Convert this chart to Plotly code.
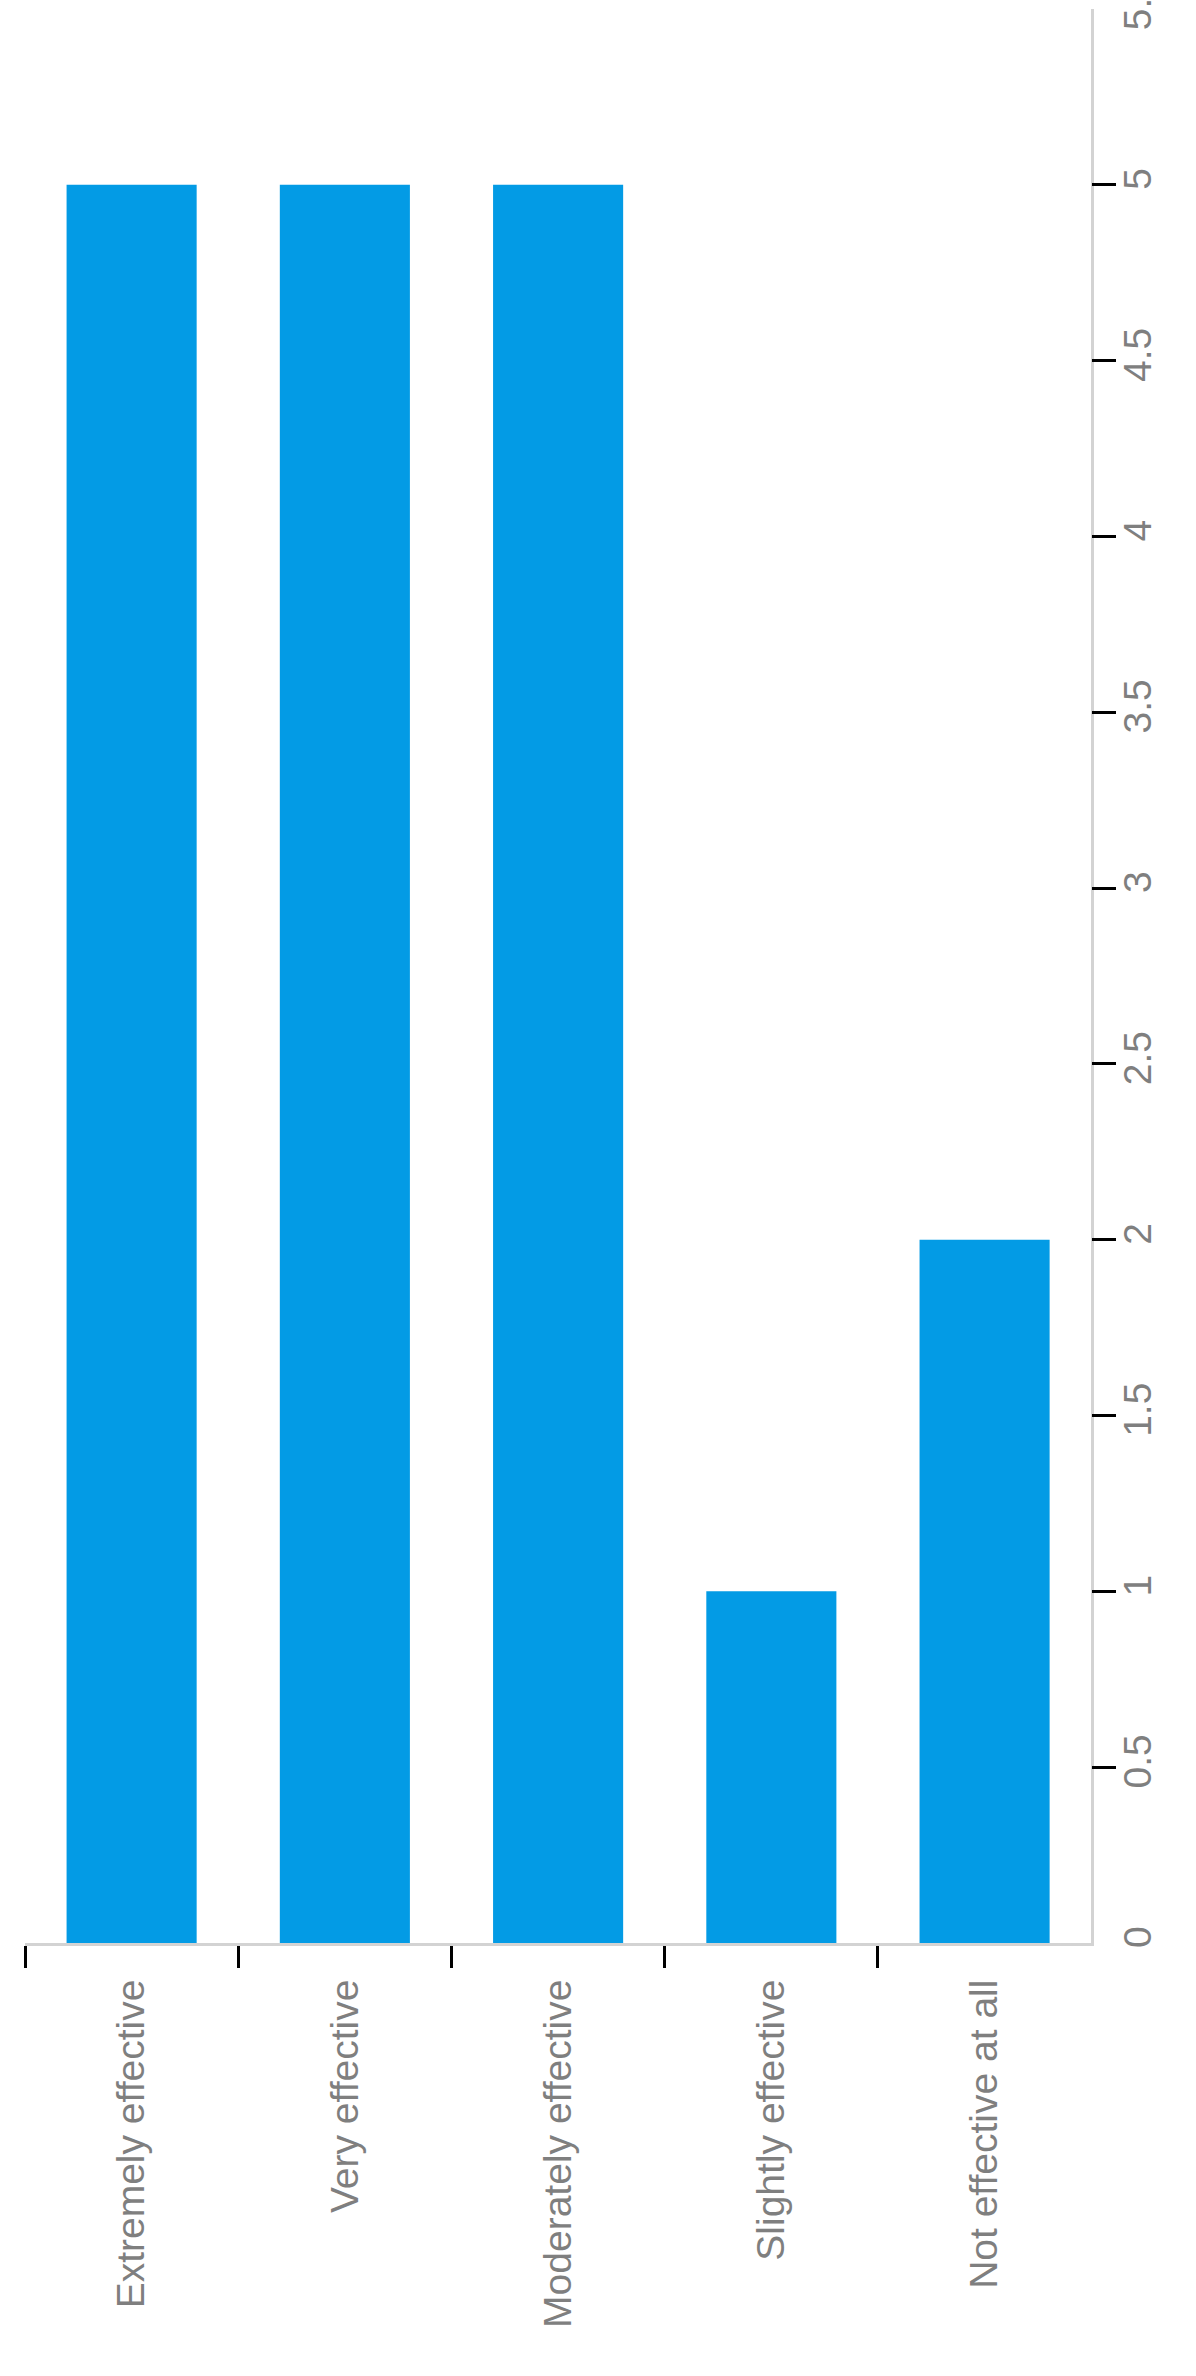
import plotly.graph_objects as go

# survey answers and counts
categories = ['Extremely effective', 'Very effective', 'Moderately effective',
              'Slightly effective', 'Not effective at all']
counts = [5, 5, 5, 1, 2]

# value axis ticks (labels on every step, tick marks only between 0 and max)
tick_vals = [0, 0.5, 1, 1.5, 2, 2.5, 3, 3.5, 4, 4.5, 5, 5.5]
mark_vals = [0.5, 1, 1.5, 2, 2.5, 3, 3.5, 4, 4.5, 5]

font_gray = '#7f7f7f'
line_gray = '#d3d3d3'

fig = go.Figure()
fig.add_trace(go.Bar(x=categories, y=counts, marker=dict(color='#039be5', line=dict(width=0)),
                     width=0.61, hoverinfo='x+y'))

fig.update_layout(width=1196, height=2376, plot_bgcolor='white', paper_bgcolor='white',
                  margin=dict(l=25, r=105, t=9, b=433, autoexpand=False), showlegend=False,
                  font=dict(family='Liberation Sans, Arial, sans-serif', size=39, color=font_gray))

fig.update_xaxes(type='category', range=[-0.5, 4.499], tickson='boundaries',
                 ticks='outside', ticklen=22, tickwidth=3, tickcolor='black',
                 showline=True, linecolor=line_gray, linewidth=3, automargin=False,
                 ticklabelstandoff=18,
                 showgrid=False, tickangle=-90, tickfont=dict(size=39, color=font_gray))

# labelled axis, its tick marks hidden
fig.update_layout(yaxis=dict(side='right', range=[0, 5.5001], tickvals=tick_vals,
                             ticks='outside', ticklen=24, tickwidth=3, tickcolor='white',
                             showline=True, linecolor=line_gray, linewidth=3,
                             showgrid=False, zeroline=False, tickangle=-90,
                             ticklabeloverflow='allow', automargin=False,
                             ticklabelstandoff=-14,
                             tickfont=dict(size=39, color=font_gray)))

# overlay axis carrying only the black tick marks
fig.update_layout(yaxis2=dict(overlaying='y', side='right', range=[0, 5.5001], tickvals=mark_vals,
                              ticks='outside', ticklen=24, tickwidth=3, tickcolor='black',
                              automargin=False,
                              showticklabels=False, showline=False, showgrid=False, zeroline=False))
fig.add_trace(go.Scatter(x=[], y=[], yaxis='y2', showlegend=False, hoverinfo='skip'))

# no page margin so the chart sits in the window corner
fig.write_html("out.html", config={'displayModeBar': False},
               post_script="document.body.style.margin='0';")
